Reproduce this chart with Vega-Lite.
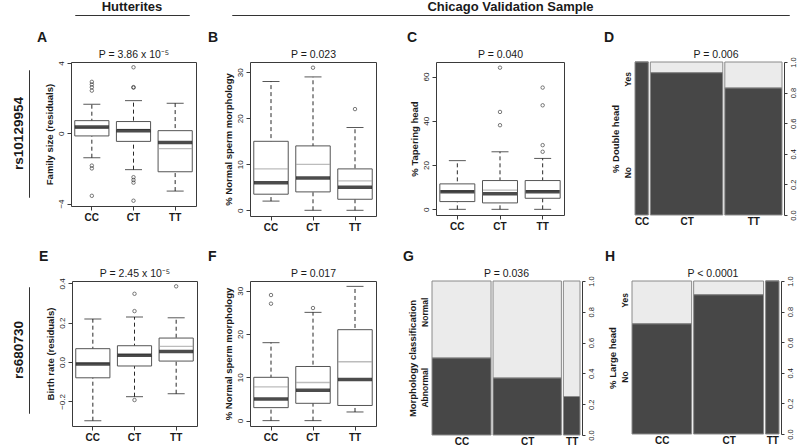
{
 "$schema": "https://vega.github.io/schema/vega-lite/v6.json",
 "padding": {"left": 10, "top": 0, "right": 0, "bottom": 0},
 "background": "white",
 "config": {
  "font": "Liberation Sans",
  "view": {"stroke": "#3a3a3a", "strokeWidth": 1},
  "axis": {"grid": false, "labelFont": "Liberation Sans", "titleFont": "Liberation Sans", "labelColor": "#1a1a1a", "titleColor": "#1a1a1a", "tickColor": "#3a3a3a", "domainColor": "#3a3a3a", "labelOverlap": false, "labelFlush": false},
  "title": {"font": "Liberation Sans", "color": "#1a1a1a"}
 },
 "datasets": {
  "A_box": [
   {"g": "CC", "lo": -1.39, "q1": -0.15, "med": 0.36, "mean": 0.30, "q3": 0.72, "hi": 1.65},
   {"g": "CT", "lo": -2.07, "q1": -0.46, "med": 0.15, "mean": 0.22, "q3": 0.67, "hi": 1.86},
   {"g": "TT", "lo": -3.29, "q1": -2.19, "med": -0.53, "mean": -0.87, "q3": 0.15, "hi": 1.71}
  ],
  "A_out": [
   {"g": "CC", "v": 2.93}, {"g": "CC", "v": 2.78}, {"g": "CC", "v": 2.62}, {"g": "CC", "v": 2.43},
   {"g": "CC", "v": -1.84}, {"g": "CC", "v": -2.0}, {"g": "CC", "v": -3.56},
   {"g": "CT", "v": 3.76}, {"g": "CT", "v": 2.6}, {"g": "CT", "v": 2.63},
   {"g": "CT", "v": -2.5}, {"g": "CT", "v": -2.66}, {"g": "CT", "v": -2.81}, {"g": "CT", "v": -3.84}
  ],
  "B_box": [
   {"g": "CC", "lo": 2, "q1": 3.5, "med": 6, "mean": 9, "q3": 15, "hi": 28},
   {"g": "CT", "lo": 0, "q1": 4, "med": 7, "mean": 10, "q3": 14, "hi": 29},
   {"g": "TT", "lo": 0, "q1": 2.4, "med": 5, "mean": 6.4, "q3": 9, "hi": 18}
  ],
  "B_out": [{"g": "CT", "v": 31}, {"g": "TT", "v": 22}],
  "C_box": [
   {"g": "CC", "lo": 0, "q1": 3.5, "med": 8, "mean": 8.2, "q3": 11.5, "hi": 22},
   {"g": "CT", "lo": 0, "q1": 2.9, "med": 7, "mean": 8.7, "q3": 13, "hi": 26},
   {"g": "TT", "lo": 0, "q1": 5, "med": 8, "mean": 8.3, "q3": 13, "hi": 23}
  ],
  "C_out": [{"g": "CT", "v": 64}, {"g": "CT", "v": 44}, {"g": "CT", "v": 38}, {"g": "TT", "v": 55}, {"g": "TT", "v": 47}, {"g": "TT", "v": 29}, {"g": "TT", "v": 26}],
  "E_box": [
   {"g": "CC", "lo": -0.298, "q1": -0.08, "med": -0.01, "mean": -0.005, "q3": 0.068, "hi": 0.219},
   {"g": "CT", "lo": -0.176, "q1": -0.02, "med": 0.034, "mean": 0.038, "q3": 0.083, "hi": 0.229},
   {"g": "TT", "lo": -0.161, "q1": 0.005, "med": 0.054, "mean": 0.08, "q3": 0.122, "hi": 0.225}
  ],
  "E_out": [{"g": "CT", "v": 0.347}, {"g": "CT", "v": 0.259}, {"g": "CT", "v": -0.193}, {"g": "TT", "v": 0.385}],
  "F_box": [
   {"g": "CC", "lo": 0, "q1": 3, "med": 5, "mean": 7.8, "q3": 10, "hi": 18},
   {"g": "CT", "lo": 0, "q1": 4, "med": 7, "mean": 8.8, "q3": 12.5, "hi": 25},
   {"g": "TT", "lo": 2, "q1": 3.5, "med": 9.5, "mean": 13.6, "q3": 21, "hi": 31}
  ],
  "F_out": [{"g": "CC", "v": 29}, {"g": "CC", "v": 27}, {"g": "CT", "v": 26}],
  "D_mosaic": [{"g": "CC", "n": 15, "p": 1.0}, {"g": "CT", "n": 73, "p": 0.93}, {"g": "TT", "n": 58, "p": 0.83}],
  "G_mosaic": [{"g": "CC", "n": 59, "p": 0.5}, {"g": "CT", "n": 68, "p": 0.37}, {"g": "TT", "n": 18, "p": 0.25}],
  "H_mosaic": [{"g": "CC", "n": 60, "p": 0.72}, {"g": "CT", "n": 70, "p": 0.91}, {"g": "TT", "n": 15, "p": 1.0}]
 },
 "spacing": 14,
 "vconcat": [
  {
   "spacing": 44,
   "hconcat": [
    {"width": 0.01, "height": 0.01, "data": {"values": []}, "mark": "point", "encoding": {}, "view": {"stroke": null}},
    {
     "spacing": 41,
     "hconcat": [
      {"width": 114, "height": 0.01, "data": {"values": []}, "mark": "point", "encoding": {}, "view": {"stroke": "#333"}, "title": {"text": "Hutterites", "fontSize": 13, "fontWeight": "bold", "offset": 1}},
      {"width": 557, "height": 0.01, "data": {"values": []}, "mark": "point", "encoding": {}, "view": {"stroke": "#333"}, "title": {"text": "Chicago Validation Sample", "fontSize": 13, "fontWeight": "bold", "offset": 1}}
     ]
    }
   ]
  },
  {
   "spacing": 16,
   "vconcat": [
    {
     "spacing": 6,
     "hconcat": [
      {
       "spacing": 6,
       "vconcat": [
        {"width": 0.01, "height": 0.01, "data": {"values": []}, "mark": "point", "encoding": {}, "view": {"stroke": null}},
        {"width": 0.01, "height": 127, "data": {"values": []}, "mark": "point", "encoding": {}, "view": {"stroke": "#333"}, "title": {"text": "rs10129954", "orient": "left", "fontSize": 13.5, "fontWeight": "bold", "offset": 4}}
       ]
      },
      {
       "spacing": 10,
       "hconcat": [
        {
         "width": 125, "height": 144,
         "title": {"text": "A", "anchor": "start", "frame": "group", "dx": -34, "fontSize": 14, "fontWeight": "bold", "offset": 4},
         "data": {"name": "A_box"},
         "encoding": {"x": {"field": "g", "type": "nominal", "title": null, "scale": {"paddingInner": 0, "paddingOuter": 0}, "axis": null}},
         "layer": [
          {"mark": {"type": "rule", "strokeDash": [4, 3], "color": "#111", "strokeWidth": 0.9}, "encoding": {"x": {"field": "g", "type": "nominal", "title": null, "scale": {"paddingInner": 0, "paddingOuter": 0}, "axis": {"orient": "bottom", "domain": false, "tickSize": 4, "labelFontSize": 10, "labelFontWeight": "bold", "labelAngle": 0, "labelPadding": 2}}, "y": {"field": "lo", "type": "quantitative", "title": "Family size (residuals)", "scale": {"domain": [-4.14, 4.06], "nice": false, "zero": false}, "axis": {"values": [-4, -2, 0, 2, 4], "domain": false, "tickSize": 4, "labelAngle": -90, "labelFontSize": 8, "labelPadding": 2, "titleFontSize": 9.5, "titleFontWeight": "bold", "titlePadding": 3}}, "y2": {"field": "hi"}}},
          {"mark": {"type": "tick", "orient": "horizontal", "size": 17, "thickness": 1, "color": "#111"}, "encoding": {"y": {"field": "lo", "type": "quantitative", "title": "Family size (residuals)"}}},
          {"mark": {"type": "tick", "orient": "horizontal", "size": 17, "thickness": 1, "color": "#111"}, "encoding": {"y": {"field": "hi", "type": "quantitative", "title": "Family size (residuals)"}}},
          {"mark": {"type": "bar", "width": {"band": 0.82}, "fill": "white", "stroke": "#555", "strokeWidth": 1}, "encoding": {"y": {"field": "q1", "type": "quantitative", "title": "Family size (residuals)"}, "y2": {"field": "q3"}}},
          {"mark": {"type": "tick", "orient": "horizontal", "size": 34, "thickness": 1.3, "color": "#a0a0a0"}, "encoding": {"y": {"field": "mean", "type": "quantitative", "title": "Family size (residuals)"}}},
          {"mark": {"type": "tick", "orient": "horizontal", "size": 34, "thickness": 3.5, "color": "#000"}, "encoding": {"y": {"field": "med", "type": "quantitative", "title": "Family size (residuals)"}}},
          {"data": {"name": "A_out"}, "mark": {"type": "point", "shape": "circle", "filled": false, "size": 12, "strokeWidth": 0.8, "color": "#111"}, "encoding": {"x": {"field": "g", "type": "nominal", "title": "P = 3.86 x 10⁻⁵", "scale": {"paddingInner": 0, "paddingOuter": 0}, "axis": {"orient": "top", "labels": false, "ticks": false, "domain": false, "titleFontSize": 10.5, "titleFontWeight": "normal", "titlePadding": 3}}, "y": {"field": "v", "type": "quantitative", "title": "Family size (residuals)"}}}
         ],
         "resolve": {"axis": {"x": "independent"}}
        },
        {
         "spacing": 29,
         "hconcat": [
          {
           "width": 126, "height": 154,
           "title": {"text": "B", "anchor": "start", "frame": "group", "dx": -42, "fontSize": 14, "fontWeight": "bold", "offset": 4},
           "data": {"name": "B_box"},
           "encoding": {"x": {"field": "g", "type": "nominal", "title": null, "scale": {"paddingInner": 0, "paddingOuter": 0}, "axis": null}},
           "layer": [
            {"mark": {"type": "rule", "strokeDash": [4, 3], "color": "#111", "strokeWidth": 0.9}, "encoding": {"x": {"field": "g", "type": "nominal", "title": null, "scale": {"paddingInner": 0, "paddingOuter": 0}, "axis": {"orient": "bottom", "domain": false, "tickSize": 4, "labelFontSize": 10, "labelFontWeight": "bold", "labelAngle": 0, "labelPadding": 2}}, "y": {"field": "lo", "type": "quantitative", "title": "% Normal sperm morphology", "scale": {"domain": [-1.24, 32.24], "nice": false, "zero": false}, "axis": {"values": [0, 5, 10, 15, 20, 25, 30], "domain": false, "tickSize": 4, "labelAngle": -90, "labelFontSize": 8, "labelPadding": 2, "titleFontSize": 9.5, "titleFontWeight": "bold", "titlePadding": 3}}, "y2": {"field": "hi"}}},
            {"mark": {"type": "tick", "orient": "horizontal", "size": 17, "thickness": 1, "color": "#111"}, "encoding": {"y": {"field": "lo", "type": "quantitative", "title": "% Normal sperm morphology"}}},
            {"mark": {"type": "tick", "orient": "horizontal", "size": 17, "thickness": 1, "color": "#111"}, "encoding": {"y": {"field": "hi", "type": "quantitative", "title": "% Normal sperm morphology"}}},
            {"mark": {"type": "bar", "width": {"band": 0.82}, "fill": "white", "stroke": "#555", "strokeWidth": 1}, "encoding": {"y": {"field": "q1", "type": "quantitative", "title": "% Normal sperm morphology"}, "y2": {"field": "q3"}}},
            {"mark": {"type": "tick", "orient": "horizontal", "size": 34, "thickness": 1.3, "color": "#a0a0a0"}, "encoding": {"y": {"field": "mean", "type": "quantitative", "title": "% Normal sperm morphology"}}},
            {"mark": {"type": "tick", "orient": "horizontal", "size": 34, "thickness": 3.5, "color": "#000"}, "encoding": {"y": {"field": "med", "type": "quantitative", "title": "% Normal sperm morphology"}}},
            {"data": {"name": "B_out"}, "mark": {"type": "point", "shape": "circle", "filled": false, "size": 12, "strokeWidth": 0.8, "color": "#111"}, "encoding": {"x": {"field": "g", "type": "nominal", "title": "P = 0.023", "scale": {"paddingInner": 0, "paddingOuter": 0}, "axis": {"orient": "top", "labels": false, "ticks": false, "domain": false, "titleFontSize": 10.5, "titleFontWeight": "normal", "titlePadding": 3}}, "y": {"field": "v", "type": "quantitative", "title": "% Normal sperm morphology"}}}
           ],
           "resolve": {"axis": {"x": "independent"}}
          },
          {
           "spacing": 39,
           "hconcat": [
            {
             "width": 128, "height": 153,
             "title": {"text": "C", "anchor": "start", "frame": "group", "dx": -29, "fontSize": 14, "fontWeight": "bold", "offset": 4},
             "data": {"name": "C_box"},
             "encoding": {"x": {"field": "g", "type": "nominal", "title": null, "scale": {"paddingInner": 0, "paddingOuter": 0}, "axis": null}},
             "layer": [
              {"mark": {"type": "rule", "strokeDash": [4, 3], "color": "#111", "strokeWidth": 0.9}, "encoding": {"x": {"field": "g", "type": "nominal", "title": null, "scale": {"paddingInner": 0, "paddingOuter": 0}, "axis": {"orient": "bottom", "domain": false, "tickSize": 4, "labelFontSize": 10, "labelFontWeight": "bold", "labelAngle": 0, "labelPadding": 2}}, "y": {"field": "lo", "type": "quantitative", "title": "% Tapering head", "scale": {"domain": [-2.56, 66.56], "nice": false, "zero": false}, "axis": {"values": [0, 10, 20, 30, 40, 50, 60], "domain": false, "tickSize": 4, "labelAngle": -90, "labelFontSize": 8, "labelPadding": 2, "titleFontSize": 9.5, "titleFontWeight": "bold", "titlePadding": 3}}, "y2": {"field": "hi"}}},
              {"mark": {"type": "tick", "orient": "horizontal", "size": 17, "thickness": 1, "color": "#111"}, "encoding": {"y": {"field": "lo", "type": "quantitative", "title": "% Tapering head"}}},
              {"mark": {"type": "tick", "orient": "horizontal", "size": 17, "thickness": 1, "color": "#111"}, "encoding": {"y": {"field": "hi", "type": "quantitative", "title": "% Tapering head"}}},
              {"mark": {"type": "bar", "width": {"band": 0.82}, "fill": "white", "stroke": "#555", "strokeWidth": 1}, "encoding": {"y": {"field": "q1", "type": "quantitative", "title": "% Tapering head"}, "y2": {"field": "q3"}}},
              {"mark": {"type": "tick", "orient": "horizontal", "size": 34, "thickness": 1.3, "color": "#a0a0a0"}, "encoding": {"y": {"field": "mean", "type": "quantitative", "title": "% Tapering head"}}},
              {"mark": {"type": "tick", "orient": "horizontal", "size": 34, "thickness": 3.5, "color": "#000"}, "encoding": {"y": {"field": "med", "type": "quantitative", "title": "% Tapering head"}}},
              {"data": {"name": "C_out"}, "mark": {"type": "point", "shape": "circle", "filled": false, "size": 12, "strokeWidth": 0.8, "color": "#111"}, "encoding": {"x": {"field": "g", "type": "nominal", "title": "P = 0.040", "scale": {"paddingInner": 0, "paddingOuter": 0}, "axis": {"orient": "top", "labels": false, "ticks": false, "domain": false, "titleFontSize": 10.5, "titleFontWeight": "normal", "titlePadding": 3}}, "y": {"field": "v", "type": "quantitative", "title": "% Tapering head"}}}
             ],
             "resolve": {"axis": {"x": "independent"}}
            },
            {
             "width": 149, "height": 153,
             "title": {"text": "D", "anchor": "start", "frame": "group", "dx": -30, "fontSize": 14, "fontWeight": "bold", "offset": 4},
             "view": {"stroke": null},
             "data": {"name": "D_mosaic"},
             "transform": [{"stack": "n", "groupby": [], "sort": [{"field": "g", "order": "ascending"}], "as": ["x0", "x1"], "offset": "normalize"}],
             "encoding": {
              "x": {"field": "x0", "type": "quantitative", "title": null, "scale": {"domain": [0, 1], "nice": false, "zero": false}, "axis": null},
              "x2": {"field": "x1"}
             },
             "layer": [
              {"mark": {"type": "rect", "fill": "#ebebeb", "stroke": "#8a8a8a", "strokeWidth": 1, "xOffset": 1, "x2Offset": -1}, "encoding": {"x": {"field": "x0", "type": "quantitative", "title": null, "scale": {"domain": [0, 1], "nice": false, "zero": false}, "axis": {"orient": "bottom", "values": [0.051, 0.353, 0.801], "labelExpr": "datum.index < 0.25 ? 'CC' : datum.index < 0.75 ? 'CT' : 'TT'", "ticks": false, "domain": false, "labelFontSize": 10, "labelFontWeight": "bold", "labelPadding": 1}}, "y": {"field": "p", "type": "quantitative", "title": "% Double head", "scale": {"domain": [0, 1], "nice": false, "zero": false}, "axis": {"orient": "left", "values": [0.28, 0.89], "labelExpr": "datum.value < 0.5 ? 'No' : 'Yes'", "ticks": false, "domain": false, "labelAngle": -90, "labelFontSize": 8.5, "labelFontWeight": "bold", "labelPadding": 2, "titleFontSize": 9.5, "titleFontWeight": "bold", "titlePadding": 3}}, "y2": {"datum": 1}}},
              {"mark": {"type": "rect", "fill": "#474747", "stroke": "#8a8a8a", "strokeWidth": 1, "xOffset": 1, "x2Offset": -1}, "encoding": {"x": {"field": "x0", "type": "quantitative", "title": "P = 0.006", "scale": {"domain": [0, 1], "nice": false, "zero": false}, "axis": {"orient": "top", "labels": false, "ticks": false, "domain": false, "titleFontSize": 10.5, "titleFontWeight": "normal", "titlePadding": 3, "titleX": 81.5}}, "y": {"field": "p", "type": "quantitative", "title": null, "axis": {"orient": "right", "values": [0, 0.2, 0.4, 0.6, 0.8, 1], "format": ".1f", "labelAngle": -90, "tickSize": 3, "domain": true, "labelFontSize": 7.5, "labelPadding": 2, "offset": 1}}, "y2": {"datum": 0}}}
             ],
             "resolve": {"axis": {"x": "independent", "y": "independent"}}
            }
           ]
          }
         ]
        }
       ]
      }
     ]
    },
    {
     "spacing": 8,
     "hconcat": [
      {
       "spacing": 4,
       "vconcat": [
        {"width": 0.01, "height": 0.01, "data": {"values": []}, "mark": "point", "encoding": {}, "view": {"stroke": null}},
        {"width": 0.01, "height": 126, "data": {"values": []}, "mark": "point", "encoding": {}, "view": {"stroke": "#333"}, "title": {"text": "rs680730", "orient": "left", "fontSize": 13.5, "fontWeight": "bold", "offset": 4}}
       ]
      },
      {
       "spacing": 9,
       "hconcat": [
        {
         "width": 125, "height": 145,
         "title": {"text": "E", "anchor": "start", "frame": "group", "dx": -33, "fontSize": 14, "fontWeight": "bold", "offset": 4},
         "data": {"name": "E_box"},
         "encoding": {"x": {"field": "g", "type": "nominal", "title": null, "scale": {"paddingInner": 0, "paddingOuter": 0}, "axis": null}},
         "layer": [
          {"mark": {"type": "rule", "strokeDash": [4, 3], "color": "#111", "strokeWidth": 0.9}, "encoding": {"x": {"field": "g", "type": "nominal", "title": null, "scale": {"paddingInner": 0, "paddingOuter": 0}, "axis": {"orient": "bottom", "domain": false, "tickSize": 4, "labelFontSize": 10, "labelFontWeight": "bold", "labelAngle": 0, "labelPadding": 2}}, "y": {"field": "lo", "type": "quantitative", "title": "Birth rate (residuals)", "scale": {"domain": [-0.325, 0.412], "nice": false, "zero": false}, "axis": {"values": [-0.2, 0, 0.2, 0.4], "format": ".1f", "domain": false, "tickSize": 4, "labelAngle": -90, "labelFontSize": 8, "labelPadding": 2, "titleFontSize": 9.5, "titleFontWeight": "bold", "titlePadding": 3}}, "y2": {"field": "hi"}}},
          {"mark": {"type": "tick", "orient": "horizontal", "size": 17, "thickness": 1, "color": "#111"}, "encoding": {"y": {"field": "lo", "type": "quantitative", "title": "Birth rate (residuals)"}}},
          {"mark": {"type": "tick", "orient": "horizontal", "size": 17, "thickness": 1, "color": "#111"}, "encoding": {"y": {"field": "hi", "type": "quantitative", "title": "Birth rate (residuals)"}}},
          {"mark": {"type": "bar", "width": {"band": 0.82}, "fill": "white", "stroke": "#555", "strokeWidth": 1}, "encoding": {"y": {"field": "q1", "type": "quantitative", "title": "Birth rate (residuals)"}, "y2": {"field": "q3"}}},
          {"mark": {"type": "tick", "orient": "horizontal", "size": 34, "thickness": 1.3, "color": "#a0a0a0"}, "encoding": {"y": {"field": "mean", "type": "quantitative", "title": "Birth rate (residuals)"}}},
          {"mark": {"type": "tick", "orient": "horizontal", "size": 34, "thickness": 3.5, "color": "#000"}, "encoding": {"y": {"field": "med", "type": "quantitative", "title": "Birth rate (residuals)"}}},
          {"data": {"name": "E_out"}, "mark": {"type": "point", "shape": "circle", "filled": false, "size": 12, "strokeWidth": 0.8, "color": "#111"}, "encoding": {"x": {"field": "g", "type": "nominal", "title": "P = 2.45 x 10⁻⁵", "scale": {"paddingInner": 0, "paddingOuter": 0}, "axis": {"orient": "top", "labels": false, "ticks": false, "domain": false, "titleFontSize": 10.5, "titleFontWeight": "normal", "titlePadding": 3}}, "y": {"field": "v", "type": "quantitative", "title": "Birth rate (residuals)"}}}
         ],
         "resolve": {"axis": {"x": "independent"}}
        },
        {
         "spacing": 26,
         "hconcat": [
          {
           "width": 126, "height": 145,
           "title": {"text": "F", "anchor": "start", "frame": "group", "dx": -42, "fontSize": 14, "fontWeight": "bold", "offset": 4},
           "data": {"name": "F_box"},
           "encoding": {"x": {"field": "g", "type": "nominal", "title": null, "scale": {"paddingInner": 0, "paddingOuter": 0}, "axis": null}},
           "layer": [
            {"mark": {"type": "rule", "strokeDash": [4, 3], "color": "#111", "strokeWidth": 0.9}, "encoding": {"x": {"field": "g", "type": "nominal", "title": null, "scale": {"paddingInner": 0, "paddingOuter": 0}, "axis": {"orient": "bottom", "domain": false, "tickSize": 4, "labelFontSize": 10, "labelFontWeight": "bold", "labelAngle": 0, "labelPadding": 2}}, "y": {"field": "lo", "type": "quantitative", "title": "% Normal sperm morphology", "scale": {"domain": [-1.24, 32.24], "nice": false, "zero": false}, "axis": {"values": [0, 5, 10, 15, 20, 25, 30], "domain": false, "tickSize": 4, "labelAngle": -90, "labelFontSize": 8, "labelPadding": 2, "titleFontSize": 9.5, "titleFontWeight": "bold", "titlePadding": 3}}, "y2": {"field": "hi"}}},
            {"mark": {"type": "tick", "orient": "horizontal", "size": 17, "thickness": 1, "color": "#111"}, "encoding": {"y": {"field": "lo", "type": "quantitative", "title": "% Normal sperm morphology"}}},
            {"mark": {"type": "tick", "orient": "horizontal", "size": 17, "thickness": 1, "color": "#111"}, "encoding": {"y": {"field": "hi", "type": "quantitative", "title": "% Normal sperm morphology"}}},
            {"mark": {"type": "bar", "width": {"band": 0.82}, "fill": "white", "stroke": "#555", "strokeWidth": 1}, "encoding": {"y": {"field": "q1", "type": "quantitative", "title": "% Normal sperm morphology"}, "y2": {"field": "q3"}}},
            {"mark": {"type": "tick", "orient": "horizontal", "size": 34, "thickness": 1.3, "color": "#a0a0a0"}, "encoding": {"y": {"field": "mean", "type": "quantitative", "title": "% Normal sperm morphology"}}},
            {"mark": {"type": "tick", "orient": "horizontal", "size": 34, "thickness": 3.5, "color": "#000"}, "encoding": {"y": {"field": "med", "type": "quantitative", "title": "% Normal sperm morphology"}}},
            {"data": {"name": "F_out"}, "mark": {"type": "point", "shape": "circle", "filled": false, "size": 12, "strokeWidth": 0.8, "color": "#111"}, "encoding": {"x": {"field": "g", "type": "nominal", "title": "P = 0.017", "scale": {"paddingInner": 0, "paddingOuter": 0}, "axis": {"orient": "top", "labels": false, "ticks": false, "domain": false, "titleFontSize": 10.5, "titleFontWeight": "normal", "titlePadding": 3}}, "y": {"field": "v", "type": "quantitative", "title": "% Normal sperm morphology"}}}
           ],
           "resolve": {"axis": {"x": "independent"}}
          },
          {
           "spacing": 10,
           "hconcat": [
            {
             "width": 150, "height": 154,
             "title": {"text": "G", "anchor": "start", "frame": "group", "dx": -28, "fontSize": 14, "fontWeight": "bold", "offset": 4},
             "view": {"stroke": null},
             "data": {"name": "G_mosaic"},
             "transform": [{"stack": "n", "groupby": [], "sort": [{"field": "g", "order": "ascending"}], "as": ["x0", "x1"], "offset": "normalize"}],
             "encoding": {
              "x": {"field": "x0", "type": "quantitative", "title": null, "scale": {"domain": [0, 1], "nice": false, "zero": false}, "axis": null},
              "x2": {"field": "x1"}
             },
             "layer": [
              {"mark": {"type": "rect", "fill": "#ebebeb", "stroke": "#8a8a8a", "strokeWidth": 1, "xOffset": 1, "x2Offset": -1}, "encoding": {"x": {"field": "x0", "type": "quantitative", "title": null, "scale": {"domain": [0, 1], "nice": false, "zero": false}, "axis": {"orient": "bottom", "values": [0.203, 0.641, 0.938], "labelExpr": "datum.index < 0.25 ? 'CC' : datum.index < 0.75 ? 'CT' : 'TT'", "ticks": false, "domain": false, "labelFontSize": 10, "labelFontWeight": "bold", "labelPadding": 1}}, "y": {"field": "p", "type": "quantitative", "title": "Morphology classification", "scale": {"domain": [0, 1], "nice": false, "zero": false}, "axis": {"orient": "left", "values": [0.31, 0.8], "labelExpr": "datum.value < 0.5 ? 'Abnormal' : 'Normal'", "ticks": false, "domain": false, "labelAngle": -90, "labelFontSize": 8.5, "labelFontWeight": "bold", "labelPadding": 2, "titleFontSize": 9.5, "titleFontWeight": "bold", "titlePadding": 3}}, "y2": {"datum": 1}}},
              {"mark": {"type": "rect", "fill": "#474747", "stroke": "#8a8a8a", "strokeWidth": 1, "xOffset": 1, "x2Offset": -1}, "encoding": {"x": {"field": "x0", "type": "quantitative", "title": "P = 0.036", "scale": {"domain": [0, 1], "nice": false, "zero": false}, "axis": {"orient": "top", "labels": false, "ticks": false, "domain": false, "titleFontSize": 10.5, "titleFontWeight": "normal", "titlePadding": 3}}, "y": {"field": "p", "type": "quantitative", "title": null, "axis": {"orient": "right", "values": [0, 0.2, 0.4, 0.6, 0.8, 1], "format": ".1f", "labelAngle": -90, "tickSize": 3, "domain": true, "labelFontSize": 7.5, "labelPadding": 2, "offset": 1}}, "y2": {"datum": 0}}}
             ],
             "resolve": {"axis": {"x": "independent", "y": "independent"}}
            },
            {
             "width": 149, "height": 153,
             "title": {"text": "H", "anchor": "start", "frame": "group", "dx": -26, "fontSize": 14, "fontWeight": "bold", "offset": 4},
             "view": {"stroke": null},
             "data": {"name": "H_mosaic"},
             "transform": [{"stack": "n", "groupby": [], "sort": [{"field": "g", "order": "ascending"}], "as": ["x0", "x1"], "offset": "normalize"}],
             "encoding": {
              "x": {"field": "x0", "type": "quantitative", "title": null, "scale": {"domain": [0, 1], "nice": false, "zero": false}, "axis": null},
              "x2": {"field": "x1"}
             },
             "layer": [
              {"mark": {"type": "rect", "fill": "#ebebeb", "stroke": "#8a8a8a", "strokeWidth": 1, "xOffset": 1, "x2Offset": -1}, "encoding": {"x": {"field": "x0", "type": "quantitative", "title": null, "scale": {"domain": [0, 1], "nice": false, "zero": false}, "axis": {"orient": "bottom", "values": [0.207, 0.655, 0.948], "labelExpr": "datum.index < 0.25 ? 'CC' : datum.index < 0.75 ? 'CT' : 'TT'", "ticks": false, "domain": false, "labelFontSize": 10, "labelFontWeight": "bold", "labelPadding": 1}}, "y": {"field": "p", "type": "quantitative", "title": "% Large head", "scale": {"domain": [0, 1], "nice": false, "zero": false}, "axis": {"orient": "left", "values": [0.376, 0.876], "labelExpr": "datum.value < 0.5 ? 'No' : 'Yes'", "ticks": false, "domain": false, "labelAngle": -90, "labelFontSize": 8.5, "labelFontWeight": "bold", "labelPadding": 2, "titleFontSize": 9.5, "titleFontWeight": "bold", "titlePadding": 3}}, "y2": {"datum": 1}}},
              {"mark": {"type": "rect", "fill": "#474747", "stroke": "#8a8a8a", "strokeWidth": 1, "xOffset": 1, "x2Offset": -1}, "encoding": {"x": {"field": "x0", "type": "quantitative", "title": "P < 0.0001", "scale": {"domain": [0, 1], "nice": false, "zero": false}, "axis": {"orient": "top", "labels": false, "ticks": false, "domain": false, "titleFontSize": 10.5, "titleFontWeight": "normal", "titlePadding": 3, "titleX": 81.5}}, "y": {"field": "p", "type": "quantitative", "title": null, "axis": {"orient": "right", "values": [0, 0.2, 0.4, 0.6, 0.8, 1], "format": ".1f", "labelAngle": -90, "tickSize": 3, "domain": true, "labelFontSize": 7.5, "labelPadding": 2, "offset": 1}}, "y2": {"datum": 0}}}
             ],
             "resolve": {"axis": {"x": "independent", "y": "independent"}}
            }
           ]
          }
         ]
        }
       ]
      }
     ]
    }
   ]
  }
 ]
}
